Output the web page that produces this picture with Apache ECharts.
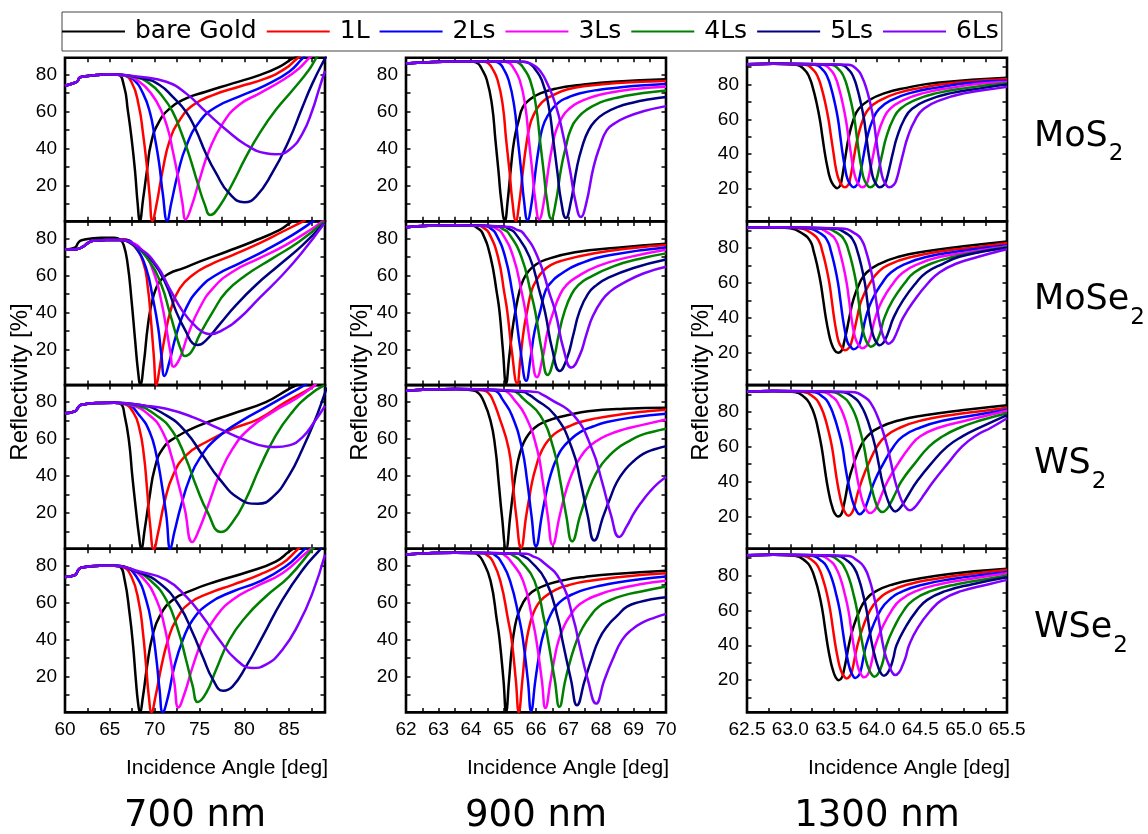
<!DOCTYPE html>
<html>
<head>
<meta charset="utf-8">
<title>SPR reflectivity</title>
<script src="https://cdn.jsdelivr.net/npm/echarts@6/dist/echarts.min.js"></script>
<style>
  html, body { margin: 0; padding: 0; background: #fff; }
  #main { width: 1148px; height: 834px; }
</style>
</head>
<body>
<div id="main"></div>
<script>
'use strict'

const layers = ['bare Gold', '1L', '2Ls', '3Ls', '4Ls', '5Ls', '6Ls'];
const colors = ['#000000', '#ff0000', '#0000ff', '#ff00ff', '#008000', '#000080', '#8000ff'];
const materials = ['MoS2', 'MoSe2', 'WS2', 'WSe2'];
const wavelengths = ['700 nm', '900 nm', '1300 nm'];

const xLabels700 = [60, 65, 70, 75, 80, 85];
const xTicks700 = [62.5, 65, 67.5, 70, 72.5, 75, 77.5, 80, 82.5, 85, 87.5];
const xLabels900 = [62, 63, 64, 65, 66, 67, 68, 69, 70];
const xTicks900 = [62.5, 63, 63.5, 64, 64.5, 65, 65.5, 66, 66.5, 67, 67.5, 68, 68.5, 69, 69.5];
const xLabels1300 = [62.5, 63.0, 63.5, 64.0, 64.5, 65.0, 65.5];
const xTicks1300 = [62.75, 63, 63.25, 63.5, 63.75, 64, 64.25, 64.5, 64.75, 65, 65.25];
const yLabels = [20, 40, 60, 80];
const yTicks = [10, 20, 30, 40, 50, 60, 70, 80];
const yTicks1300 = [10, 20, 30, 40, 50, 60, 70, 80, 90];

// shared low-angle part of the curves, [angle, reflectivity]
const MoS2_700_start = [[60,74],[61,75.5],[61.4,76.5],[61.6,78.3],[62,79],[63.5,79.8],[64.8,80.2]];
const MoSe2_700_start = [[60,74],[61.3,74.2],[62,75.5],[62.5,77.3],[63.15,78.7],[64.6,79.1],[66,79.2]];
const WS2_700_start = [[60,74],[61.1,75],[61.5,77.3],[61.85,78.6],[63.9,79.5],[65.5,79.6]];
const WSe2_700_start = [[60,74],[61.1,75],[61.5,77.8],[61.85,79.1],[63.9,80],[65.5,80]];
const start900 = [[62,86.1],[62.7,86.8],[63.5,87.1]];
const start1300 = [[62.5,91.6],[62.8,91.9]];

// order of curves in each panel: bare Gold, 1L, 2Ls, 3Ls, 4Ls, 5Ls, 6Ls
const MoS2_700 = [
  [[65.9,80],[66.6,73.5],[67,61],[67.4,46.5],[67.8,28.5],[68.1,10.5],[68.35,1],[68.7,12.3],[69.15,28.5],[69.6,43],[70.4,53.7],[71.7,61.8],[73.5,67.2],[75.7,70.8],[78.7,75.3],[81.7,79.8],[83.9,84.3],[85.4,88.8],[86,90]],
  [[66.3,80],[67.4,76.2],[68.25,62.7],[68.7,48.3],[69.1,32.1],[69.45,14.1],[69.75,1],[70.2,9.6],[70.9,28.5],[71.7,44.7],[72.8,55.5],[74.3,63.6],[76.5,69],[79.4,73.5],[82.4,78],[84.6,83.4],[85.9,88.8],[86.3,90]],
  [[66.5,79.6],[67.6,77.5],[68.7,69.9],[69.5,59.1],[70,46.5],[70.5,32.1],[70.9,15.9],[71.4,1],[71.85,10.5],[72.6,26.7],[73.5,41.1],[75,54.6],[76.9,62.7],[79.4,68.1],[82.4,74.4],[85,81.6],[86.5,88.8],[86.8,90]],
  [[66.85,79.3],[68.3,76.2],[69.6,69.9],[70.7,60.9],[71.5,50.1],[72,39.3],[72.6,24.9],[73.1,10.5],[73.45,1.8],[74.1,8.6],[75,23.1],[76.1,39.3],[77.6,53.7],[79.4,63.6],[81.7,69.9],[84.3,77.1],[86.1,83.4],[87.2,88.8],[87.5,90]],
  [[67.6,78.9],[69.4,75.3],[70.9,68.1],[72,60],[73,48.3],[73.9,35.7],[74.8,21.3],[75.6,9.6],[76.2,4.1],[77.2,8.6],[78.7,21.3],[80.2,35.7],[81.7,48.3],[83.5,60.9],[85.4,71.7],[87.2,82.5],[88,88.8],[88.2,90]],
  [[68.7,78],[70.55,74.4],[72,68.1],[73.5,60],[74.6,50.1],[75.7,37.5],[76.85,26.7],[78.3,15.9],[80,11],[81.3,14.1],[83.1,26.7],[85,44.7],[86.5,62.7],[87.6,75.3],[88.9,87.9],[89.2,90]],
  [[68.3,78.9],[71.3,76.2],[73.5,69.9],[75.7,60],[78,50.1],[80.2,42],[82.4,37.5],[83.5,37],[85,39.3],[86.5,48.3],[87.6,60.9],[88.3,71.7],[89,82]]
];
const MoSe2_700 = [
  [[60,74],[61.1,75],[61.5,77.8],[61.85,79],[64,80.4],[65.5,80.4],[66.1,79.5],[66.55,76.4],[67,65.6],[67.4,47.6],[67.8,26],[68.15,8],[68.4,1],[68.8,13],[69.25,33],[69.8,47.6],[70.55,56.6],[71.65,61.1],[73.15,63.8],[75,67.4],[78,72.8],[80.9,78.2],[83.9,84.5],[85,88.1],[85.35,89.4]],
  [[66.5,79.6],[67.6,76.4],[68.7,67.4],[69.25,53],[69.6,35],[69.9,16.9],[70.2,0.8],[70.55,9.7],[71.1,26],[71.85,42.2],[72.8,53],[74.25,60.2],[76.1,65.6],[78.7,71],[81.65,77.3],[84.25,83.6],[86.85,89.9]],
  [[66.85,79.1],[67.95,74.6],[69.05,63.8],[69.8,47.6],[70.4,31.4],[70.75,16.9],[71.1,5.6],[71.65,13.3],[72.4,27.7],[73.5,42.2],[75,53],[76.85,60.2],[79.45,66.5],[82.4,73.7],[85.35,81.8],[87.6,89],[87.8,90]],
  [[67.2,78.2],[68.7,72.8],[70,60.2],[70.75,45.8],[71.3,31.4],[71.75,18.7],[72.1,10.6],[72.8,15.1],[73.7,27.7],[75,42.2],[76.5,53],[78.7,62],[81.65,69.2],[84.6,76.4],[87.6,85.4],[88.9,89.9]],
  [[67.6,76.4],[69.45,67.4],[70.75,54.8],[71.65,40.4],[72.4,27.7],[72.95,19.6],[73.35,16.4],[74.1,18.7],[75,27.7],[76.5,40.4],[78,51.2],[80.2,60.2],[83.15,69.2],[86.1,78.2],[88.9,89]],
  [[67.95,75.5],[69.8,67.4],[71.3,54.8],[72.4,40.4],[73.5,29.5],[74.25,23.2],[74.8,22.3],[75.75,25],[77.2,33.2],[79.1,44],[81.3,54.8],[83.9,65.6],[86.5,76.4],[88.9,88.1]],
  [[68.3,74.6],[70.2,65.6],[71.65,53],[73.15,40.4],[74.6,32.3],[75.75,28.6],[76.3,28.3],[77.6,30.5],[79.45,36.8],[81.65,47.6],[84.25,60.2],[86.5,72.8],[88.9,88.1]]
];
const WS2_700 = [
  [[66.2,79.1],[66.65,72.8],[67.15,58.4],[67.5,40.4],[67.9,22.3],[68.25,7.9],[68.5,0.7],[68.9,11.5],[69.4,27.7],[70,44],[70.9,54.8],[72.4,61.1],[75,67.4],[78.7,73.7],[82.4,80],[85,87.2],[85.75,89],[86,90]],
  [[66.5,79.1],[67.6,74.6],[68.3,65.6],[68.8,51.2],[69.15,33.2],[69.5,13.3],[69.9,0.5],[70.4,9.7],[71.1,25.9],[72.05,40.4],[73.5,51.2],[75.75,58.4],[78.7,65.6],[81.65,71],[84.6,80],[87.6,88.1],[88,90]],
  [[66.85,78.9],[68.3,72.8],[69.45,63.8],[70.2,51.2],[70.75,36.8],[71.3,18.7],[71.75,0.7],[72.2,9.7],[72.95,24.1],[73.9,38.6],[75,49.4],[76.85,60.2],[79.45,69.2],[82.4,77.3],[85.35,85.4],[86.65,89],[87,90]],
  [[67.2,78.6],[69.45,72.8],[70.9,63.8],[71.85,51.2],[72.6,36.8],[73.35,22.3],[74.2,4.3],[75,11.5],[76.1,25.9],[77.2,40.4],[78.7,54.8],[80.55,65.6],[83.15,74.6],[85.75,81.8],[87.6,88.1],[88,90]],
  [[67.6,78.6],[70.2,72.8],[72.05,63.8],[73.5,49.4],[74.6,35],[75.9,20.5],[77.4,9.7],[78.7,15.1],[80.2,27.7],[81.65,43.8],[83.5,61.9],[85.35,74.6],[87.2,83.6],[88.9,89]],
  [[68.3,78.6],[71.3,72.8],[73.5,63.8],[75.35,51.2],[77.2,38.6],[79.45,27.7],[81.5,25],[83.15,28.6],[85,40.4],[86.5,54.8],[87.8,69.2],[88.9,83.6],[89.2,88]],
  [[68.7,78.2],[71.3,76.4],[74.25,71.9],[77.2,65.6],[80.2,59.3],[82.4,56],[83.5,55.7],[85,56.6],[86.5,61.1],[87.8,69.2],[89,78]]
];
const WSe2_700 = [
  [[66.1,79.6],[66.65,72.4],[67.2,54.4],[67.6,36.4],[67.9,18.4],[68.15,5.8],[68.35,0.9],[68.7,9.4],[69.15,25.6],[69.75,41.8],[70.55,52.6],[72.05,61.6],[74.25,67],[76.85,71.5],[80.55,76.9],[83.5,82.3],[85,87.7],[85.35,89],[85.6,90]],
  [[66.3,79.6],[67.4,74.2],[68.25,59.8],[68.7,43.6],[69.05,25.6],[69.35,9.4],[69.65,0.9],[70.1,9.4],[70.75,25.6],[71.5,40],[72.4,50.8],[73.9,59.8],[76.1,65.2],[78.7,69.7],[81.65,75.1],[84.25,81.4],[85.9,88.6],[86.2,90]],
  [[66.65,79.3],[67.95,74.2],[69.05,61.6],[69.75,45.4],[70.2,29.2],[70.55,13],[70.9,0.9],[71.5,9.4],[72.2,25.6],[73.15,40],[74.25,50.8],[76.1,59.8],[78.7,66.1],[81.65,71.5],[84.6,79.6],[86.65,88.6],[86.9,90]],
  [[67.05,78.7],[68.7,73.3],[70.2,61.6],[71.1,47.2],[71.65,32.8],[72.2,16.6],[72.65,3.4],[73.35,11.2],[74.25,25.6],[75.35,40],[76.85,52.6],[78.7,61.6],[81.3,68.8],[84.25,76],[86.85,86.8],[87.4,89],[87.6,90]],
  [[67.6,77.8],[69.45,72.4],[71.3,61.6],[72.6,45.4],[73.5,29.2],[74.25,14.8],[74.8,6.3],[75.75,11.2],[76.85,23.8],[78.35,40],[80.2,52.6],[82.4,63.4],[85,74.2],[87.6,89],[87.8,90]],
  [[67.95,76.9],[70.55,70.6],[72.8,58],[74.25,43.6],[75.35,31],[76.5,18.4],[77.65,12.4],[78.7,14.8],[80.2,25.6],[82.05,41.8],[84.25,61.6],[86.5,77.8],[88.5,89],[88.7,90]],
  [[68.3,76.9],[71.3,72.4],[73.5,63.4],[75.35,52.6],[77.2,40],[79.1,29.2],[80.9,24.7],[82.4,26.5],[84.25,34.6],[86.1,49],[87.6,65.2],[89,86]]
];

const MoS2_900 = [
  [[64.08,87],[64.22,86],[64.32,83.5],[64.49,77],[64.65,63],[64.75,45],[64.85,27],[64.93,12],[65.04,1],[65.13,12],[65.23,30],[65.33,44.6],[65.47,55.4],[65.6,62.6],[65.8,66.5],[66.13,69.9],[66.65,72.6],[67.36,74.4],[68.39,76.2],[70,77.6]],
  [[64.4,87],[64.54,86],[64.65,83.5],[64.82,77],[64.98,63],[65.08,45],[65.19,27],[65.27,12],[65.38,1],[65.48,10],[65.61,30],[65.7,42],[65.79,51],[65.92,58],[66.18,65],[66.5,68.7],[66.95,72],[67.6,74],[68.5,75.5],[70,76.6]],
  [[64.73,87],[64.88,86],[64.99,83.5],[65.16,77],[65.33,63],[65.44,45],[65.55,27],[65.63,12],[65.74,1.5],[65.86,10],[66,30],[66.1,42],[66.18,50],[66.35,57.5],[66.7,65],[67,67.8],[67.36,70],[68,72],[68.5,73],[69.2,74.1],[70,75]],
  [[65.04,87],[65.2,86],[65.31,83.5],[65.5,77],[65.67,63],[65.78,45],[65.89,27],[65.98,12],[66.1,1.8],[66.23,10],[66.39,30],[66.5,41],[66.62,50],[66.82,57.5],[67.05,62],[67.31,65],[67.7,67.8],[68.18,70],[68.9,72],[70,73.5]],
  [[65.34,87],[65.5,86],[65.62,83.5],[65.82,77],[66,63],[66.12,45],[66.24,27],[66.34,12],[66.47,2.1],[66.6,10],[66.78,30],[66.92,41],[67.06,50],[67.3,57],[67.6,61.5],[67.98,65],[68.35,67],[68.7,68.4],[69.3,70.1],[70,71.5]],
  [[65.62,87],[65.81,86],[65.95,83.5],[66.18,77],[66.39,63],[66.53,45],[66.66,27],[66.77,12],[66.92,2.5],[67.06,10],[67.26,30],[67.42,41],[67.62,50],[67.85,55.5],[68.1,59],[68.5,62.5],[69,65],[69.5,66.7],[70,68]],
  [[65.55,87],[65.8,86.3],[66,84.3],[66.15,81.5],[66.3,77],[66.6,64],[66.85,46],[67.05,28],[67.22,11],[67.38,3],[67.54,10],[67.77,30],[67.96,41],[68.18,50],[68.45,54],[68.8,57.2],[69.3,60.2],[70,63]]
];
const MoSe2_900 = [
  [[64.05,86.8],[64.2,85.5],[64.35,83],[64.6,70],[64.8,50],[64.88,40],[64.98,20],[65.08,1.6],[65.17,15],[65.27,30],[65.36,40],[65.5,52],[65.62,58],[65.76,62],[65.98,65.6],[66.3,68.5],[67.2,72.5],[68.5,75],[70,77.1]],
  [[64.25,86.8],[64.4,85.5],[64.55,83],[64.83,70],[65.03,50],[65.12,40],[65.25,20],[65.42,1.6],[65.52,15],[65.62,30],[65.72,40],[65.87,52],[66.02,57.5],[66.2,62],[66.45,65.5],[66.8,68],[67.8,72],[69,74.8],[70,76.4]],
  [[64.45,86.7],[64.6,85.4],[64.75,83],[65.05,70],[65.28,50],[65.37,40],[65.52,20],[65.7,3],[65.83,15],[65.96,30],[66.12,40],[66.3,52],[66.48,56.5],[66.7,60],[67.3,66],[68.3,71],[70,75.1]],
  [[64.6,86.6],[64.78,85.2],[64.95,83],[65.3,70],[65.57,50],[65.68,40],[65.85,20],[66.03,4.9],[66.2,15],[66.36,30],[66.53,40],[66.75,50],[66.95,55],[67.2,58.5],[67.9,65],[68.9,70],[70,73.9]],
  [[64.8,86.5],[64.98,85],[65.15,83],[65.55,70],[65.85,50],[65.98,40],[66.17,20],[66.36,6.1],[66.55,15],[66.7,28],[66.87,40],[67.1,50],[67.32,55],[67.6,58.5],[68.4,65],[69.2,69],[70,71.9]],
  [[65,86.4],[65.18,85],[65.35,83],[65.8,70],[66.13,50],[66.28,40],[66.5,20],[66.73,8.3],[66.95,15],[67.15,28],[67.33,40],[67.6,50],[67.88,55],[68.2,58.5],[69,64],[70,68.6]],
  [[65.2,86.2],[65.4,84.8],[65.6,83],[66.05,70],[66.42,50],[66.6,40],[66.85,20],[67.09,10.1],[67.35,17],[67.55,28],[67.75,38],[68.05,47],[68.3,51.5],[68.6,55],[69.3,61],[70,64.7]]
];
const WS2_900 = [
  [[64.08,86.3],[64.22,85],[64.35,82],[64.6,70],[64.75,54.8],[64.85,37],[64.95,18.7],[65.08,0.7],[65.21,18.7],[65.3,32],[65.4,44],[65.5,52],[65.62,58],[65.77,62.5],[65.95,66],[66.2,68.8],[66.54,71],[67,73],[67.6,75],[68.7,76.4],[70,76.9]],
  [[64.39,86.3],[64.53,85],[64.65,82],[64.85,72.8],[65.16,54.8],[65.28,37],[65.39,18.7],[65.54,1.1],[65.7,18.7],[65.79,28],[65.88,36.8],[66,45],[66.12,51.5],[66.28,57],[66.45,60.8],[66.65,63.8],[67,66.8],[67.36,69.2],[67.85,71.2],[68.39,72.8],[69.2,74.6],[70,75.9]],
  [[64.7,86.3],[64.84,85],[64.95,82],[65.26,72.8],[65.57,54.8],[65.73,37],[65.86,18.7],[66,2],[66.18,18.7],[66.28,28],[66.39,36.8],[66.52,44.5],[66.65,50],[66.8,54.8],[67.05,59.5],[67.36,63.8],[67.75,66.8],[68.18,69.2],[69,71.8],[70,73.7]],
  [[65,86.3],[65.15,85],[65.3,82],[65.67,72.8],[66.03,54.8],[66.21,37],[66.36,18.7],[66.51,2.9],[66.73,18.7],[66.86,28],[67.01,36.8],[67.2,45],[67.38,50.5],[67.57,54.8],[67.85,58.8],[68.18,62],[68.65,65],[69.21,67.4],[70,70.6]],
  [[65.3,86],[65.45,84.6],[65.6,82],[66.13,72.8],[66.54,54.8],[66.75,37],[66.93,18.7],[67.11,4.7],[67.36,18.7],[67.53,28],[67.72,36.8],[67.95,44.5],[68.2,50],[68.49,54.8],[68.85,58.8],[69.21,62],[69.6,64],[70,65.6]],
  [[65.62,85.4],[65.78,84],[65.95,82],[66.59,72.8],[67.11,54.8],[67.37,37],[67.59,18.7],[67.79,5.2],[68.08,18.7],[68.28,28],[68.49,36.8],[68.75,43.5],[69,48],[69.3,52],[69.65,54.5],[70,56.2]],
  [[66.03,85.4],[66.2,84],[66.4,82],[67.16,72.8],[67.72,54.8],[68.03,37],[68.31,18.7],[68.56,7],[68.8,13],[69,19.5],[69.25,26],[69.5,31.5],[69.75,36],[70,39.5]]
];
const WSe2_900 = [
  [[64.1,86.9],[64.22,85.8],[64.35,83],[64.6,72],[64.8,50],[64.88,39.9],[65,18],[65.08,1],[65.17,18],[65.26,36],[65.35,47],[65.45,54],[65.6,60],[65.78,64.3],[66,67.2],[66.4,70.2],[66.9,72.4],[67.5,74],[68.4,75.6],[70,77.3]],
  [[64.35,86.9],[64.5,85.6],[64.65,83],[64.9,72],[65.15,50],[65.25,39.9],[65.38,18],[65.47,1],[65.58,18],[65.68,36],[65.78,46],[65.9,53.5],[66.05,59],[66.25,63],[66.6,67],[67,69.5],[67.5,71.5],[68.6,74],[70,76]],
  [[64.6,86.9],[64.75,85.6],[64.9,83],[65.2,72],[65.5,50],[65.6,39.9],[65.75,18],[65.85,1.5],[65.98,18],[66.08,30],[66.18,39.9],[66.32,48],[66.45,53.5],[66.6,57.9],[66.85,62],[67.15,64.8],[67.47,67],[68,69.3],[68.5,71],[69.2,72.7],[70,74.2]],
  [[64.9,86.8],[65.05,85.5],[65.2,83],[65.6,72],[65.9,50],[66.01,39.9],[66.18,18],[66.29,3.1],[66.45,18],[66.57,30],[66.7,39.9],[66.88,48],[67.05,53],[67.26,57.9],[67.55,61.5],[67.9,64.2],[68.39,67],[69.2,70],[70,71.9]],
  [[65.15,86.7],[65.32,85.3],[65.5,83],[65.95,72],[66.26,50],[66.37,39.9],[66.58,18],[66.72,3.7],[66.9,18],[67.06,29],[67.26,39.9],[67.45,47],[67.68,53],[67.93,57.9],[68.3,61.5],[68.7,64],[69.2,66],[70,68.8]],
  [[65.4,86.6],[65.6,85.2],[65.8,83],[66.3,72],[66.7,50],[66.81,39.9],[67.08,18],[67.26,4.6],[67.5,18],[67.7,29],[67.93,39.9],[68.2,47.5],[68.5,53],[68.8,57.9],[69.2,60.5],[69.6,62],[70,63]],
  [[65.7,86.5],[65.92,85],[66.15,83],[66.75,72],[67.17,50],[67.3,39.9],[67.6,18],[67.85,5.5],[68.1,18],[68.35,29],[68.65,39.9],[68.95,45.5],[69.3,49.5],[69.65,52],[70,54]]
];

const MoS2_1300 = [
  [[63.07,91.3],[63.17,88],[63.22,84],[63.26,78],[63.3,70],[63.34,60],[63.37,50],[63.4,40],[63.43,32],[63.46,26],[63.5,22],[63.54,20.5],[63.575,22],[63.595,26],[63.615,32],[63.64,40],[63.675,50],[63.73,60],[63.79,66],[63.91,71],[64.09,75],[64.34,78],[64.69,81],[65.5,83.8]],
  [[63.17,91.3],[63.27,88],[63.32,84],[63.36,78],[63.4,70],[63.44,60],[63.47,50],[63.5,40],[63.525,32],[63.555,26],[63.59,22.5],[63.63,21],[63.67,22.5],[63.69,26],[63.713,32],[63.74,40],[63.78,50],[63.84,60],[63.905,66],[64.04,71],[64.235,75],[64.51,78],[64.895,81],[65.5,83.1]],
  [[63.28,91.3],[63.38,88],[63.43,84],[63.47,78],[63.51,70],[63.55,60],[63.577,50],[63.604,40],[63.631,32],[63.658,26],[63.694,22.5],[63.73,21],[63.771,22.5],[63.795,26],[63.819,32],[63.848,40],[63.889,50],[63.954,60],[64.025,66],[64.167,71],[64.379,75],[64.674,78],[65.087,81],[65.5,82.1]],
  [[63.37,91.3],[63.47,88],[63.52,84],[63.56,78],[63.6,70],[63.64,60],[63.67,50],[63.7,40],[63.725,32],[63.755,26],[63.79,22.5],[63.83,21],[63.875,22.5],[63.9,26],[63.926,32],[63.958,40],[64.003,50],[64.073,60],[64.15,66],[64.304,71],[64.534,75],[64.854,78],[65.302,81],[65.5,81.3]],
  [[63.47,91.3],[63.57,88],[63.62,84],[63.66,78],[63.7,70],[63.74,60],[63.767,50],[63.794,40],[63.821,32],[63.848,26],[63.884,22.5],[63.92,21],[63.969,22.5],[63.997,26],[64.025,32],[64.06,40],[64.109,50],[64.186,60],[64.27,66],[64.438,71],[64.69,75],[65.04,78],[65.5,80.6]],
  [[63.58,91.3],[63.68,88],[63.73,84],[63.77,78],[63.81,70],[63.85,60],[63.877,50],[63.904,40],[63.931,32],[63.958,26],[63.994,22.5],[64.03,21],[64.083,22.5],[64.113,26],[64.143,32],[64.18,40],[64.233,50],[64.315,60],[64.405,66],[64.585,71],[64.855,75],[65.23,78],[65.5,80]],
  [[63.67,91.3],[63.78,88],[63.83,84],[63.875,78],[63.918,70],[63.96,60],[63.987,50],[64.014,40],[64.041,32],[64.068,26],[64.104,22.5],[64.14,21],[64.196,22.5],[64.228,26],[64.26,32],[64.3,40],[64.356,50],[64.444,60],[64.54,66],[64.732,71],[65.02,75],[65.42,78],[65.5,78.6]]
];
const MoSe2_1300 = [
  [[63,91.3],[63.15,88],[63.23,84],[63.27,78],[63.31,70],[63.35,60],[63.38,50],[63.41,40],[63.44,32],[63.47,26],[63.51,21.5],[63.55,20],[63.595,21.5],[63.62,26],[63.648,32],[63.68,40],[63.725,50],[63.8,60],[63.88,66],[64.03,71],[64.25,75],[64.55,78],[65,81],[65.5,83.8]],
  [[63.1,91.3],[63.26,88],[63.33,84],[63.37,78],[63.41,70],[63.45,60],[63.478,50],[63.505,40],[63.532,32],[63.56,26],[63.595,23],[63.63,21.4],[63.68,23],[63.705,26],[63.735,32],[63.77,40],[63.82,50],[63.92,60],[64.01,66],[64.16,71],[64.41,75],[64.73,78],[65.23,81],[65.5,82.9]],
  [[63.19,91.3],[63.36,88],[63.43,84],[63.47,78],[63.51,70],[63.55,60],[63.578,50],[63.605,40],[63.632,32],[63.66,26],[63.695,23.5],[63.73,22],[63.78,23.5],[63.805,26],[63.835,32],[63.87,40],[63.94,50],[64.06,60],[64.16,66],[64.33,71],[64.58,75],[64.93,78],[65.28,80.3],[65.5,81.7]],
  [[63.29,91.3],[63.46,88],[63.53,84],[63.57,78],[63.61,70],[63.65,60],[63.678,50],[63.705,40],[63.732,32],[63.76,27],[63.795,24],[63.83,22.5],[63.88,24],[63.91,27],[63.94,32],[63.98,40],[64.06,50],[64.19,60],[64.3,66],[64.48,71],[64.73,75],[65.1,78],[65.5,81.1]],
  [[63.38,91.3],[63.56,88],[63.63,84],[63.675,78],[63.718,70],[63.76,60],[63.787,50],[63.814,40],[63.841,32],[63.865,28],[63.895,25],[63.93,23.5],[63.98,25],[64.01,28],[64.04,32],[64.085,40],[64.18,50],[64.32,60],[64.43,66],[64.62,71],[64.89,75],[65.2,78],[65.5,80.6]],
  [[63.48,91.3],[63.66,88],[63.73,84],[63.775,78],[63.818,70],[63.86,60],[63.887,50],[63.914,40],[63.94,33],[63.97,28],[64,25.5],[64.03,24.3],[64.07,25.5],[64.1,28],[64.14,33],[64.19,40],[64.3,50],[64.45,60],[64.57,66],[64.76,71],[64.95,75],[65.22,78],[65.5,80.2]],
  [[63.58,91.3],[63.76,88],[63.83,84],[63.875,78],[63.918,70],[63.96,60],[63.99,50],[64.02,40],[64.05,33],[64.08,28.5],[64.105,26.3],[64.13,25.2],[64.17,26.3],[64.2,28.5],[64.24,33],[64.3,40],[64.43,50],[64.59,60],[64.72,66],[64.91,71],[65.17,75],[65.35,77.5],[65.5,79.3]]
];
const WS2_1300 = [
  [[63.05,91.3],[63.17,88],[63.23,84],[63.28,78],[63.32,70],[63.36,60],[63.39,50],[63.42,40],[63.45,32],[63.48,26],[63.515,21.5],[63.55,20],[63.59,21.5],[63.615,26],[63.64,32],[63.67,40],[63.73,50],[63.81,60],[63.89,66],[64.03,71],[64.25,75],[64.55,78],[65,81],[65.5,83.8]],
  [[63.15,91.3],[63.28,88],[63.34,84],[63.39,78],[63.435,70],[63.48,60],[63.51,50],[63.54,40],[63.57,32],[63.6,26],[63.635,22],[63.67,20.4],[63.71,22],[63.74,26],[63.77,32],[63.82,40],[63.9,50],[64,60],[64.1,66],[64.27,71],[64.51,75],[64.84,78],[65.22,80.5],[65.5,82.3]],
  [[63.25,91.3],[63.39,88],[63.45,84],[63.5,78],[63.55,70],[63.6,60],[63.63,50],[63.665,40],[63.7,32],[63.73,27],[63.765,23],[63.8,21.3],[63.845,23],[63.88,27],[63.915,32],[63.97,40],[64.07,50],[64.19,60],[64.3,66],[64.5,71],[64.77,75],[65.12,78],[65.5,81.2]],
  [[63.36,91.3],[63.5,88],[63.56,84],[63.615,78],[63.665,70],[63.71,60],[63.745,50],[63.78,40],[63.815,32],[63.845,27],[63.88,23.5],[63.92,21.9],[63.97,23.5],[64.01,27],[64.05,32],[64.12,40],[64.24,50],[64.38,60],[64.5,66],[64.72,71],[65.03,75],[65.28,78],[65.5,80.6]],
  [[63.47,91.3],[63.62,88],[63.69,84],[63.75,78],[63.8,70],[63.85,60],[63.885,50],[63.92,40],[63.955,33],[63.985,28],[64.02,24],[64.06,22.5],[64.11,24],[64.16,28],[64.21,33],[64.28,40],[64.43,50],[64.6,60],[64.76,66],[64.96,71],[65.19,75],[65.5,79.2]],
  [[63.58,91.3],[63.74,88],[63.81,84],[63.87,78],[63.925,70],[63.98,60],[64.02,50],[64.06,40],[64.1,33],[64.135,28],[64.17,24.5],[64.21,22.9],[64.26,24.5],[64.31,28],[64.37,33],[64.46,40],[64.62,50],[64.81,60],[64.99,66],[65.19,71],[65.5,78.1]],
  [[63.7,91.3],[63.87,88],[63.94,84],[64,78],[64.06,70],[64.12,60],[64.165,50],[64.21,40],[64.255,33],[64.295,28],[64.335,25],[64.38,23.5],[64.43,25],[64.48,28],[64.55,33],[64.65,40],[64.81,50],[64.98,60],[65.13,66],[65.32,71],[65.5,76.3]]
];
const WSe2_1300 = [
  [[63.05,91.3],[63.18,88],[63.24,84],[63.285,78],[63.33,70],[63.37,60],[63.4,50],[63.43,40],[63.46,32],[63.49,26],[63.525,21.5],[63.56,20],[63.595,21.5],[63.62,26],[63.645,32],[63.675,40],[63.725,50],[63.8,60],[63.87,66],[63.99,71],[64.19,75],[64.46,78],[64.86,81],[65.5,83.8]],
  [[63.14,91.3],[63.27,88],[63.33,84],[63.375,78],[63.42,70],[63.46,60],[63.49,50],[63.52,40],[63.55,32],[63.58,26],[63.615,22.5],[63.65,21],[63.69,22.5],[63.715,26],[63.74,32],[63.775,40],[63.835,50],[63.92,60],[64.01,66],[64.15,71],[64.37,75],[64.67,78],[65.1,81],[65.5,83.3]],
  [[63.23,91.3],[63.37,88],[63.43,84],[63.48,78],[63.525,70],[63.57,60],[63.6,50],[63.63,40],[63.66,32],[63.69,26],[63.72,22.7],[63.75,21.2],[63.79,22.7],[63.815,26],[63.84,32],[63.875,40],[63.945,50],[64.04,60],[64.14,66],[64.3,71],[64.55,75],[64.87,78],[65.25,80.5],[65.5,82]],
  [[63.33,91.3],[63.47,88],[63.53,84],[63.58,78],[63.625,70],[63.67,60],[63.7,50],[63.73,40],[63.76,32],[63.79,26],[63.82,23],[63.85,21.6],[63.89,23],[63.915,26],[63.945,32],[63.98,40],[64.06,50],[64.17,60],[64.27,66],[64.45,71],[64.72,75],[65.07,78],[65.5,81.3]],
  [[63.43,91.3],[63.57,88],[63.63,84],[63.68,78],[63.725,70],[63.77,60],[63.8,50],[63.835,40],[63.87,32],[63.9,27],[63.935,23.5],[63.97,22],[64.01,23.5],[64.045,27],[64.075,32],[64.11,40],[64.195,50],[64.31,60],[64.42,66],[64.62,71],[64.92,75],[65.27,78],[65.5,80]],
  [[63.53,91.3],[63.67,88],[63.74,84],[63.79,78],[63.835,70],[63.88,60],[63.91,50],[63.945,40],[63.98,33],[64.01,28],[64.045,24],[64.08,22.5],[64.12,24],[64.16,28],[64.19,33],[64.225,40],[64.325,50],[64.46,60],[64.58,66],[64.79,71],[65.1,75],[65.5,79]],
  [[63.64,91.3],[63.79,88],[63.86,84],[63.91,78],[63.955,70],[64,60],[64.035,50],[64.07,40],[64.105,33],[64.14,28.5],[64.175,24.5],[64.21,22.9],[64.255,24.5],[64.295,28.5],[64.33,33],[64.37,40],[64.47,50],[64.62,60],[64.75,66],[64.97,71],[65.29,75],[65.5,77.5]]
];

const panels = [
  [MoS2_700, MoS2_900, MoS2_1300],
  [MoSe2_700, MoSe2_900, MoSe2_1300],
  [WS2_700, WS2_900, WS2_1300],
  [WSe2_700, WSe2_900, WSe2_1300]
];
const starts = [
  [MoS2_700_start, start900, start1300],
  [MoSe2_700_start, start900, start1300],
  [WS2_700_start, start900, start1300],
  [WSe2_700_start, start900, start1300]
];

// layout
const colLeft = [65, 406, 747];
const rowTop = [57.7, 221.4, 385.1, 548.8];
const plotW = 260, plotH = 163.6;
const xRange = [[60, 89], [62, 70], [62.5, 65.5]];
const yRange = [[0.7, 89.2], [0.7, 89.2], [1.5, 95.3]];
const xLab = [xLabels700, xLabels900, xLabels1300];
const xTk = [xTicks700, xTicks900, xTicks1300];
const yTk = [yTicks, yTicks, yTicks1300];

const tickFont = '"Liberation Sans", Arial, sans-serif';
const labelFont = '"DejaVu Sans", sans-serif';

const chart = echarts.init(document.getElementById('main'));

const grids = [], xAxes = [], yAxes = [], series = [], graphics = [];

for (let r = 0; r < 4; r++) {
  for (let c = 0; c < 3; c++) {
    const g = r * 3 + c;
    grids.push({
      left: colLeft[c], top: rowTop[r], width: plotW, height: plotH,
      show: true, borderColor: '#000', borderWidth: 2.6, backgroundColor: 'transparent'
    });
    ['bottom', 'top'].forEach(function (pos) {
      xAxes.push({
        type: 'value', gridIndex: g, position: pos,
        min: xRange[c][0], max: xRange[c][1],
        axisLine: { show: false }, splitLine: { show: false },
        axisTick: { show: true, inside: true, length: 4.5, customValues: xTk[c], lineStyle: { color: '#000', width: 1.5 } },
        axisLabel: {
          show: pos === 'bottom' && r === 3, customValues: xLab[c], margin: 8,
          color: '#000', fontSize: 19, fontFamily: tickFont,
          formatter: function (v) { return c === 2 ? v.toFixed(1) : String(v); }
        }
      });
    });
    ['left', 'right'].forEach(function (pos) {
      yAxes.push({
        type: 'value', gridIndex: g, position: pos,
        min: yRange[c][0], max: yRange[c][1],
        axisLine: { show: false }, splitLine: { show: false },
        axisTick: { show: true, inside: true, length: 4.5, customValues: yTk[c], lineStyle: { color: '#000', width: 1.5 } },
        axisLabel: {
          show: pos === 'left', customValues: yLabels, margin: 8,
          color: '#000', fontSize: 19, fontFamily: tickFont
        }
      });
    });
    const curves = panels[r][c];
    const start = starts[r][c];
    curves.forEach(function (curve, k) {
      const pts = curve[0][0] > start[start.length - 1][0] ? start.concat(curve) : curve;
      series.push({
        type: 'line', name: layers[k],
        xAxisIndex: g * 2, yAxisIndex: g * 2,
        data: pts, symbol: 'none', showSymbol: false, smooth: 0.5, clip: true,
        lineStyle: { color: colors[k], width: 2.5 },
        itemStyle: { color: colors[k] },
        emphasis: { disabled: true }
      });
    });
  }
}

// y axis names, x axis names, wavelength titles
const colCenter = colLeft.map(function (l) { return l + plotW / 2; });
const yNameX = [20, 360, 701];
for (let c = 0; c < 3; c++) {
  graphics.push({
    type: 'text', x: yNameX[c], y: 382, rotation: Math.PI / 2,
    style: { text: 'Reflectivity [%]', font: '24px ' + tickFont, fill: '#000', textAlign: 'center', textVerticalAlign: 'middle' }
  });
  graphics.push({
    type: 'text', x: colCenter[c] + 32, y: 768,
    style: { text: 'Incidence Angle [deg]', font: '21px ' + tickFont, fill: '#000', textAlign: 'center', textVerticalAlign: 'middle' }
  });
  graphics.push({
    type: 'text', x: colCenter[c], y: 816,
    style: { text: wavelengths[c], font: '37px ' + labelFont, fill: '#000', textAlign: 'center', textVerticalAlign: 'middle' }
  });
}

// material labels with subscript
const measure = document.createElement('canvas').getContext('2d');
const mainFont = '35px ' + labelFont, subFont = '23px ' + labelFont;
materials.forEach(function (m, r) {
  const base = m.slice(0, -1), sub = m.slice(-1);
  measure.font = mainFont;
  const w = measure.measureText(base).width;
  const cy = rowTop[r] + plotH / 2;
  graphics.push({
    type: 'text', x: 1034, y: cy - 3,
    style: { text: base, font: mainFont, fill: '#000', textAlign: 'left', textVerticalAlign: 'middle' }
  });
  graphics.push({
    type: 'text', x: 1034 + w + 1, y: cy + 15,
    style: { text: sub, font: subFont, fill: '#000', textAlign: 'left', textVerticalAlign: 'middle' }
  });
});

chart.setOption({
  animation: false,
  backgroundColor: '#fff',
  legend: {
    data: layers, left: 62, top: 12, icon: 'rect',
    itemWidth: 63, itemHeight: 2, itemGap: 10,
    padding: [5, 3, 5, 0], borderColor: '#444', borderWidth: 1,
    selectedMode: false,
    textStyle: { fontFamily: labelFont, fontSize: 25, color: '#000', padding: [0, 0, 0, 5], lineHeight: 29 }
  },
  grid: grids,
  xAxis: xAxes,
  yAxis: yAxes,
  series: series,
  graphic: graphics
});
</script>
</body>
</html>
